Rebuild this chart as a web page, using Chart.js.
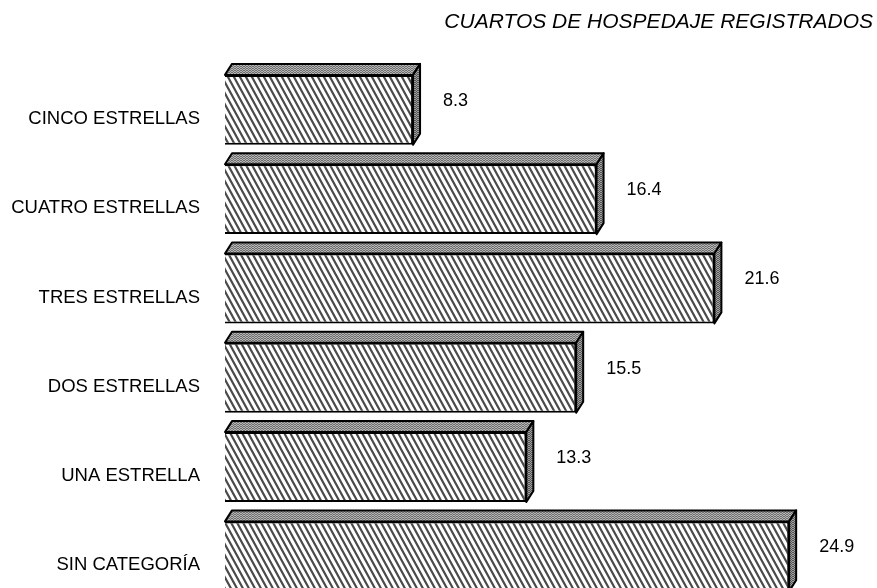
<!DOCTYPE html>
<html>
<head>
<meta charset="utf-8">
<script src="https://cdn.jsdelivr.net/npm/chart.js@4/dist/chart.umd.min.js"></script>
<style>
  html, body { margin: 0; padding: 0; background: #fff; overflow: hidden; }
  canvas { display: block; }
</style>
</head>
<body>
<canvas id="rooms" width="877" height="601"></canvas>
<script>
let categories = ["CINCO ESTRELLAS", "CUATRO ESTRELLAS", "TRES ESTRELLAS", "DOS ESTRELLAS", "UNA ESTRELLA", "SIN CATEGORÍA"]
let values = [8.3, 16.4, 21.6, 15.5, 13.3, 24.9]
let title = "CUARTOS DE HOSPEDAJE REGISTRADOS"

let fontFamily = "'Liberation Sans', Arial, sans-serif"

// steep diagonal hatch for the front face
function hatch() {
    let w = 6, h = 11
    let c = document.createElement("canvas")
    c.width = w
    c.height = h
    let g = c.getContext("2d")
    g.fillStyle = "#fff"
    g.fillRect(0, 0, w, h)
    g.strokeStyle = "#4a4a4a"
    g.lineWidth = 2.2
    g.beginPath()
    for (let k = -1; k <= 1; k++) {
        g.moveTo(k * w - w, -h)
        g.lineTo(k * w + 2 * w, 2 * h)
    }
    g.stroke()
    return g.createPattern(c, "repeat")
}

// fine mottled pattern for the top / side faces
function fine(base, line) {
    let c = document.createElement("canvas")
    c.width = 3
    c.height = 2
    let g = c.getContext("2d")
    g.fillStyle = base
    g.fillRect(0, 0, 3, 2)
    g.fillStyle = line
    g.fillRect(0, 0, 2, 1)
    g.fillRect(2, 1, 1, 1)
    return g.createPattern(c, "repeat")
}

let frontFill = hatch()
let topFill = fine("#b4b4b4", "#707070")
let sideFill = fine("#a0a0a0", "#555")

// top and right faces + value labels
const boxes = {
    id: "boxes",
    afterDatasetsDraw(chart) {
        let ctx = chart.ctx
        let meta = chart.getDatasetMeta(0)
        let dx = 7, dy = 11
        ctx.save()
        ctx.lineWidth = 2
        ctx.strokeStyle = "#000"
        ctx.lineJoin = "round"
        meta.data.forEach((bar, i) => {
            let x0 = bar.base
            let x1 = bar.x
            let top = bar.y - bar.height / 2
            let bottom = bar.y + bar.height / 2

            ctx.beginPath()
            ctx.moveTo(x0, top)
            ctx.lineTo(x0 + dx, top - dy)
            ctx.lineTo(x1 + dx, top - dy)
            ctx.lineTo(x1, top)
            ctx.closePath()
            ctx.fillStyle = topFill
            ctx.fill()
            ctx.stroke()

            ctx.beginPath()
            ctx.moveTo(x1, top)
            ctx.lineTo(x1 + dx, top - dy)
            ctx.lineTo(x1 + dx, bottom - dy)
            ctx.lineTo(x1, bottom)
            ctx.closePath()
            ctx.fillStyle = sideFill
            ctx.fill()
            ctx.stroke()

            ctx.fillStyle = "#000"
            ctx.font = "18px " + fontFamily
            ctx.textAlign = "left"
            ctx.textBaseline = "middle"
            ctx.fillText(values[i].toFixed(1), x1 + 30, bar.y - 9)
        })
        ctx.restore()
    }
}

new Chart(document.getElementById("rooms"), {
    type: "bar",
    data: {
        labels: categories,
        datasets: [{
            data: values,
            backgroundColor: frontFill,
            borderColor: "#000",
            borderWidth: 2,
            barPercentage: 0.783,
            categoryPercentage: 1
        }]
    },
    options: {
        indexAxis: "y",
        responsive: false,
        animation: false,
        layout: { padding: { left: 0, right: 4, top: 0, bottom: 0 } },
        plugins: {
            legend: { display: false },
            tooltip: { enabled: false },
            title: {
                display: true,
                text: title,
                align: "end",
                color: "#000",
                font: { family: fontFamily, size: 21, style: "italic", weight: "normal", lineHeight: 1.2 },
                padding: { top: 10, bottom: 30 }
            }
        },
        scales: {
            x: { display: false, min: 0, max: 28.6 },
            y: {
                grid: { display: false, drawTicks: false },
                border: { display: false },
                ticks: {
                    color: "#000",
                    padding: 25,
                    labelOffset: 9,
                    font: { family: fontFamily, size: 18.5 }
                },
                afterFit(scale) {
                    scale.width = 225
                    // the tick padding would otherwise shrink the plot at the bottom
                    scale.paddingTop = 0
                    scale.paddingBottom = 0
                }
            }
        }
    },
    plugins: [boxes]
})
</script>
</body>
</html>
